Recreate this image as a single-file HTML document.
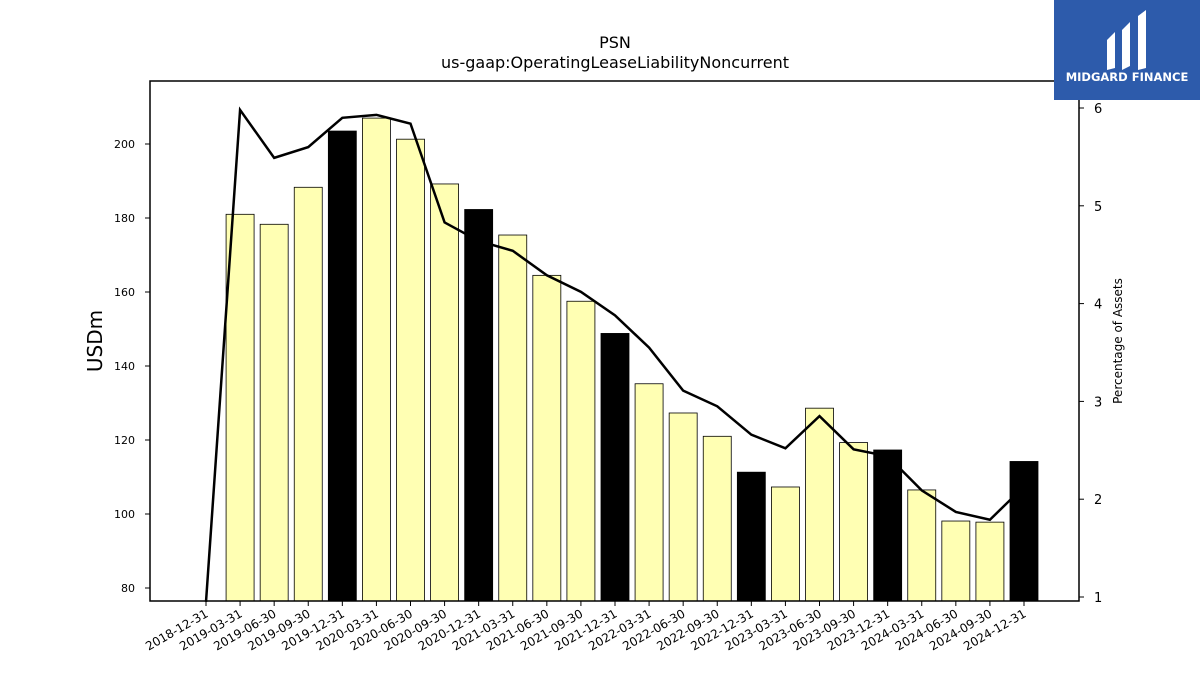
<!DOCTYPE html>
<html><head><meta charset="utf-8"><style>
body{margin:0;background:#fff;font-family:"Liberation Sans","DejaVu Sans",sans-serif}
svg text{font-family:"DejaVu Sans","Liberation Sans",sans-serif}
</style></head><body>
<svg id="c" width="1200" height="675" xmlns="http://www.w3.org/2000/svg">
<rect width="1200" height="675" fill="#fff"/>
<text x="615" y="48" text-anchor="middle" font-size="16">PSN</text>
<text x="615" y="68" text-anchor="middle" font-size="16">us-gaap:OperatingLeaseLiabilityNoncurrent</text>
<g id="bars"></g><g id="line"></g><g id="axes"></g>
<rect x="150" y="81" width="929" height="520" fill="none" stroke="#000" stroke-width="1.5"/>
<text transform="translate(102,341) rotate(-90)" text-anchor="middle" font-size="20">USDm</text>
<text transform="translate(1122,341) rotate(-90)" text-anchor="middle" font-size="12">Percentage of Assets</text>
<g>
<rect x="1054" y="0" width="146" height="100" fill="#2d5bab"/>
<path d="M1107 40 L1115 32 L1115 68 L1107 70 Z M1122 30 L1130 22 L1130 66 L1122 70 Z M1138 16 L1146 10 L1146 68 L1138 70 Z" fill="#fff"/>
<text x="1127" y="81" text-anchor="middle" font-size="11.5" font-weight="bold" fill="#fff">MIDGARD FINANCE</text>
</g>
</svg>
<script>
const categories=["2018-12-31","2019-03-31","2019-06-30","2019-09-30","2019-12-31","2020-03-31","2020-06-30","2020-09-30","2020-12-31","2021-03-31","2021-06-30","2021-09-30","2021-12-31","2022-03-31","2022-06-30","2022-09-30","2022-12-31","2023-03-31","2023-06-30","2023-09-30","2023-12-31","2024-03-31","2024-06-30","2024-09-30","2024-12-31"];
const barValues=[null,181,178.3,188.3,203.5,207,201.3,189.2,182.3,175.4,164.5,157.5,148.8,135.2,127.3,121,111.3,107.3,128.6,119.3,117.3,106.5,98.1,97.8,114.2];
const pctValues=[0.95,5.98,5.49,5.6,5.9,5.93,5.84,4.83,4.64,4.54,4.29,4.12,3.88,3.55,3.11,2.95,2.66,2.52,2.85,2.51,2.44,2.09,1.87,1.79,2.13];
const leftTicks=[80,100,120,140,160,180,200];
const rightTicks=[1,2,3,4,5,6];
const NS="http://www.w3.org/2000/svg";
const x=i=>206+i*(1024-206)/24;
const yL=v=>588-(v-80)*3.7;
const yR=v=>597-(v-1)*97.8;
function mk(t,a,p){const e=document.createElementNS(NS,t);for(const k in a)e.setAttribute(k,a[k]);p.appendChild(e);return e;}
const bars=document.getElementById('bars'),line=document.getElementById('line'),axes=document.getElementById('axes');
barValues.forEach((v,i)=>{if(v==null)return;
 const dark=categories[i].endsWith("12-31");
 const r=mk('rect',{x:x(i)-14,y:yL(v),width:28,height:601-yL(v),fill:dark?'#000':'#ffffb3',stroke:'#000','stroke-width':0.8},bars);
 
 
});
const pl=mk('polyline',{points:pctValues.map((v,i)=>x(i)+','+yR(v)).join(' '),fill:'none',stroke:'#000','stroke-width':2.5},line);


leftTicks.forEach(v=>{mk('line',{x1:145,x2:150,y1:yL(v),y2:yL(v),stroke:'#000'},axes);
 const t=mk('text',{x:135,y:yL(v)+4,'text-anchor':'end','font-size':11},axes);t.textContent=v;
 
 });
rightTicks.forEach(v=>{mk('line',{x1:1079,x2:1084,y1:yR(v),y2:yR(v),stroke:'#000'},axes);
 const t=mk('text',{x:1094,y:yR(v)+5,'font-size':13},axes);t.textContent=v;
 
 });
categories.forEach((c,i)=>{mk('line',{x1:x(i),x2:x(i),y1:601,y2:606,stroke:'#000'},axes);
 const t=mk('text',{x:x(i)+3,y:616,'text-anchor':'end','font-size':12,transform:`rotate(-30 ${x(i)+3} 616)`},axes);t.textContent=c;
 
 });
</script>
</body></html>
